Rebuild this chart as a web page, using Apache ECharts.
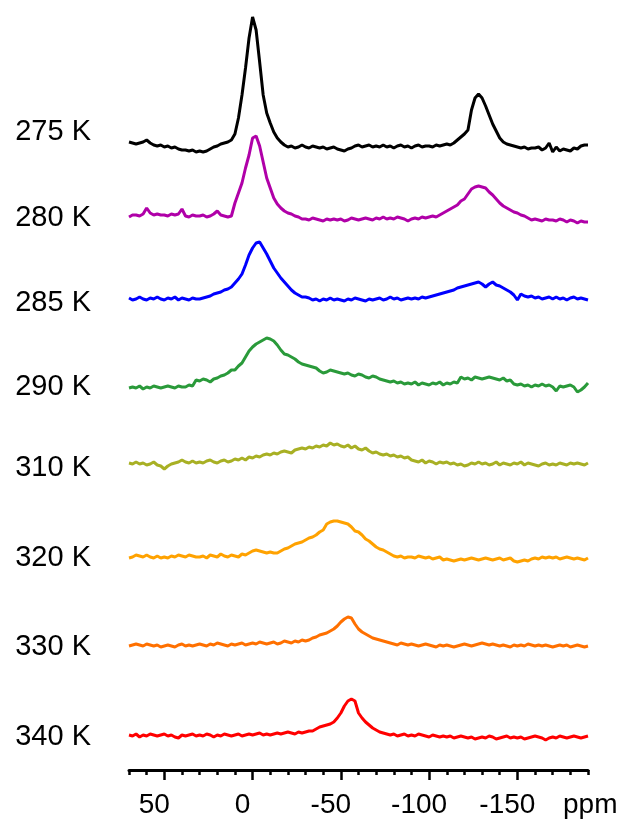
<!DOCTYPE html>
<html>
<head>
<meta charset="utf-8">
<script src="https://cdn.jsdelivr.net/npm/echarts@6/dist/echarts.min.js"></script>
<style>
  html, body { margin: 0; padding: 0; background: #fff; }
  #chart { width: 630px; height: 822px; }
</style>
</head>
<body>
<div id="chart"></div>
<script>
// chemical shift grid (ppm), shared by all spectra
const ppm = [
  70, 68, 66, 64, 62, 60, 58, 56, 54, 52,
  50, 48, 46, 44, 42, 40, 38, 36, 34, 32,
  30, 28, 26, 24, 22, 20, 18, 16, 14, 12,
  10, 8, 6, 4, 2, 0, -2, -4, -6, -8,
  -10, -12, -14, -16, -18, -20, -22, -24, -26, -28,
  -30, -32, -34, -36, -38, -40, -42, -44, -46, -48,
  -50, -52, -54, -56, -58, -60, -62, -64, -66, -68,
  -70, -72, -74, -76, -78, -80, -82, -84, -86, -88,
  -90, -92, -94, -96, -98, -100, -102, -104, -106, -108,
  -110, -112, -114, -116, -118, -120, -122, -124, -126, -128,
  -130, -132, -134, -136, -138, -140, -142, -144, -146, -148,
  -150, -152, -154, -156, -158, -160, -162, -164, -166, -168,
  -170, -172, -174, -176, -178, -180, -182, -184, -186, -188,
  -190
];

const temps = ['275 K', '280 K', '285 K', '290 K', '310 K', '320 K', '330 K', '340 K'];
const colors = ['#000000', '#b000a8', '#0000ff', '#2a9a3a', '#a8b024', '#ffa200', '#ff7000', '#ff0000'];
// vertical stacking offset of each trace
const baselines = [622, 550, 470, 382, 304, 211, 124, 33];
const majorTicks = [50, 0, -50, -100, -150];

// intensities
const s275 = [
  6, 5, 4, 5, 6, 8, 5, 3, 2, 3,
  1, 2, 0, 1, -1, -2, -2, -3, -2, -4,
  -3, -4, -3, -1, 1, 2, 4, 5, 6, 8,
  14, 30, 53, 80, 110, 131, 118, 86, 53, 35,
  25, 16, 10, 6, 3, 1, 2, 0, 1, 3,
  1, 0, 2, 1, 0, 1, -1, 0, 1, -1,
  -2, -3, -1, 0, 2, 3, 1, 2, 3, 1,
  2, 1, 3, 1, 2, 0, 2, 3, 1, 2,
  0, 2, 3, 1, 2, 2, 1, 3, 2, 3,
  4, 3, 5, 8, 11, 14, 18, 38, 50, 54,
  50, 42, 33, 24, 17, 10, 6, 4, 3, 2,
  1, 0, 1, -1, 0, 0, 1, -2, 0, 5,
  -4, 1, -3, -1, -2, -3, 0, -1, 2, 3,
  3
];
const s280 = [
  3, 5, 5, 4, 6, 12, 7, 5, 6, 5,
  5, 4, 6, 5, 6, 11, 4, 3, 5, 4,
  4, 5, 3, 4, 6, 9, 5, 4, 3, 4,
  17, 27, 37, 52, 65, 82, 84, 74, 58, 42,
  32, 22, 16, 12, 9, 7, 6, 4, 3, 1,
  1, 0, 2, 1, 0, -1, 1, 0, 1, 0,
  1, -1, 0, 2, 1, 0, 1, 2, 1, 0,
  2, 1, 3, 1, 2, 1, 3, 2, 1, -1,
  1, 2, 1, 3, 2, 3, 4, 3, 5, 7,
  9, 11, 13, 15, 19, 21, 26, 31, 33, 34,
  33, 32, 28, 25, 21, 17, 14, 12, 10, 8,
  7, 5, 4, 2, 0, 1, 0, -1, 1, 0,
  0, -1, 1, 0, -2, 0, -1, -3, -1, -2,
  -2
];
const s285 = [
  2, 0, 1, 3, 1, 0, 2, 1, 3, 1,
  0, 2, 1, 3, 0, 2, 1, 0, 2, 1,
  1, 2, 3, 4, 6, 7, 8, 10, 11, 13,
  17, 21, 26, 35, 45, 52, 57, 58, 52, 46,
  39, 32, 27, 22, 18, 14, 10, 7, 5, 3,
  3, 2, 0, 1, -1, 1, 0, 2, 0, 1,
  0, -1, 1, 0, 2, 1, 0, -1, 1, 0,
  1, 2, 0, 1, 3, 1, 2, 0, 1, 2,
  1, 2, 1, 3, 2, 3, 4, 5, 6, 7,
  8, 9, 10, 12, 13, 14, 15, 16, 17, 18,
  16, 13, 16, 18, 15, 14, 12, 10, 8, 5,
  0, 6, 4, 3, 4, 2, 3, 1, 2, 3,
  1, 3, 1, 2, 0, 2, 3, 1, 2, 1,
  0
];
const s290 = [
  0, 1, 0, 2, -1, 1, 0, 2, 1, 0,
  1, 2, 1, 0, 2, 1, 1, 3, 2, 8,
  7, 9, 8, 6, 9, 10, 12, 13, 15, 18,
  18, 22, 25, 31, 37, 41, 44, 46, 48, 50,
  49, 47, 43, 38, 34, 33, 31, 29, 26, 24,
  23, 22, 21, 20, 17, 15, 16, 18, 17, 16,
  15, 14, 15, 13, 12, 14, 13, 11, 10, 12,
  11, 9, 8, 7, 6, 7, 5, 6, 4, 5,
  4, 6, 3, 5, 4, 3, 5, 4, 6, 3,
  5, 4, 6, 5, 11, 9, 10, 8, 11, 10,
  9, 10, 11, 10, 9, 8, 10, 7, 8, 4,
  3, 4, 2, 3, 1, 3, 2, 4, 2, 3,
  1, -3, 2, 1, 2, 3, 1, -4, -2, 1,
  5
];
const s310 = [
  3, 2, 4, 2, 3, 1, 2, 4, 1, 0,
  -3, 0, 2, 3, 4, 6, 4, 3, 5, 3,
  4, 3, 5, 6, 4, 3, 5, 6, 4, 5,
  7, 6, 8, 6, 9, 8, 10, 9, 11, 12,
  11, 13, 12, 14, 15, 14, 13, 16, 17, 18,
  17, 19, 18, 20, 19, 21, 20, 23, 21, 22,
  20, 19, 21, 18, 20, 17, 16, 18, 15, 13,
  14, 12, 11, 12, 10, 11, 9, 10, 8, 9,
  6, 5, 4, 6, 3, 5, 4, 2, 4, 3,
  4, 2, 3, 1, 2, 0, 1, 3, 2, 4,
  2, 3, 1, 2, 4, 1, 3, 2, 1, 3,
  2, 4, 1, 3, 2, 1, 0, 2, 3, 1,
  2, 1, 3, 2, 1, 3, 2, 3, 2, 1,
  3
];
const s320 = [
  1, 2, 4, 3, 2, 4, 2, 1, 3, 1,
  2, 1, 3, 2, 4, 3, 2, 4, 3, 2,
  2, 3, 1, 4, 3, 2, 5, 3, 2, 4,
  3, 2, 5, 4, 6, 8, 9, 8, 7, 6,
  7, 6, 6, 8, 10, 11, 13, 15, 16, 17,
  19, 21, 22, 24, 27, 29, 35, 37, 38, 38,
  37, 36, 35, 32, 28, 27, 24, 20, 18, 15,
  12, 10, 9, 7, 5, 3, 2, 3, 1, 2,
  2, 1, 3, 2, 1, 2, 0, 1, 2, -1,
  0, -1, -2, -1, 0, -1, 0, 1, 0, -1,
  0, 1, 0, -1, 0, 1, -1, 0, 1, -2,
  -3, -2, -1, -2, 0, 1, 0, 2, 1, 2,
  1, 2, 0, 1, 2, 1, 0, 1, 0, -1,
  1
];
const s330 = [
  0, 1, 2, 1, 0, 2, 1, 0, 1, -1,
  0, 1, 0, -1, 1, 2, 0, 1, 0, 1,
  2, 1, 0, 2, 1, 3, 2, 1, 0, 2,
  1, 2, 3, 1, 2, 3, 2, 4, 3, 2,
  3, 4, 2, 3, 5, 4, 3, 5, 4, 6,
  5, 6, 8, 9, 11, 12, 13, 15, 17, 20,
  24, 27, 29, 28, 22, 17, 14, 12, 10, 8,
  7, 6, 5, 4, 3, 2, 1, 3, 2, 1,
  2, 1, 0, 1, 2, 1, 0, -1, 1, 0,
  1, 0, -1, 0, 1, 2, 1, 0, 1, 2,
  3, 2, 1, 2, 1, 0, 1, 0, -1, 1,
  0, 1, 0, 2, 1, 0, 1, 0, 1, 0,
  -1, 0, 1, 0, 1, -1, 0, 1, 0, -1,
  0
];
const s340 = [
  2, 1, 3, 0, 2, 1, 3, 2, 1, 2,
  3, 1, 2, 0, -1, 2, 1, 2, 3, 1,
  2, 1, 3, 2, 0, 2, 1, 3, 2, 1,
  2, 3, 1, 2, 3, 2, 3, 4, 2, 3,
  2, 3, 4, 3, 4, 5, 4, 3, 5, 4,
  5, 6, 6, 8, 10, 11, 12, 13, 15, 19,
  24, 31, 36, 38, 36, 24, 19, 15, 12, 9,
  7, 5, 4, 3, 2, 3, 1, 2, 3, 1,
  2, 1, 3, 2, 1, 0, 2, 1, 0, 1,
  0, 1, -1, 0, 1, 0, -1, 0, -2, -1,
  0, -1, 1, 0, -2, -1, 0, 1, -1, 0,
  -1, 0, -2, -1, 0, 1, 0, -1, -3, -1,
  0, -1, 1, 0, -1, 0, 1, 0, -1, 0,
  1
];

const spectra = [s275, s280, s285, s290, s310, s320, s330, s340];
// how far (px) each temperature label sits below the start of its trace
const labelNudge = [-10, 1, 5, -1, 5, 0, 1, 2];

const font = '"Liberation Sans", Arial, sans-serif';
const chart = echarts.init(document.getElementById('chart'));

const series = spectra.map((vals, k) => ({
  name: temps[k],
  type: 'line',
  showSymbol: false,
  silent: true,
  data: ppm.map((p, i) => [p, baselines[k] + vals[i]]),
  lineStyle: { color: colors[k], width: 3 }
}));

const option = {
  animation: false,
  backgroundColor: '#fff',
  grid: { left: 129, right: 42, top: 0, bottom: 52 },
  xAxis: [
    {
      // minor ticks every 10 ppm + axis line
      type: 'value',
      min: -190,
      max: 70,
      interval: 10,
      inverse: true,
      position: 'bottom',
      axisLine: { lineStyle: { color: '#000', width: 3 } },
      axisTick: { length: 5, lineStyle: { color: '#000', width: 2.5 } },
      axisLabel: { show: false },
      splitLine: { show: false }
    },
    {
      // major ticks + labels
      type: 'value',
      min: -190,
      max: 70,
      inverse: true,
      position: 'bottom',
      axisLine: { show: false },
      axisTick: { customValues: majorTicks, length: 10, lineStyle: { color: '#000', width: 2.5 } },
      axisLabel: {
        customValues: majorTicks,
        color: '#000',
        fontSize: 28,
        fontFamily: font,
        margin: 21,
        padding: [0, 20, 0, 0]
      },
      splitLine: { show: false }
    }
  ],
  yAxis: { type: 'value', min: 0, max: 770, show: false },
  series: series
};

chart.setOption(option);

// temperature labels to the left of each trace start
const labels = temps.map((t, k) => {
  const pt = chart.convertToPixel({ xAxisIndex: 0, yAxisIndex: 0 }, [ppm[0], baselines[k] + spectra[k][0]]);
  return {
    type: 'text',
    x: pt[0] - 38,
    y: pt[1] + labelNudge[k],
    style: { text: t, fill: '#000', font: '29px ' + font, align: 'right', verticalAlign: 'middle' }
  };
});

chart.setOption({
  graphic: [
    {
      type: 'text',
      left: 563,
      top: 791,
      style: { text: 'ppm', fill: '#000', font: '28px ' + font }
    }
  ].concat(labels)
});
</script>
</body>
</html>
